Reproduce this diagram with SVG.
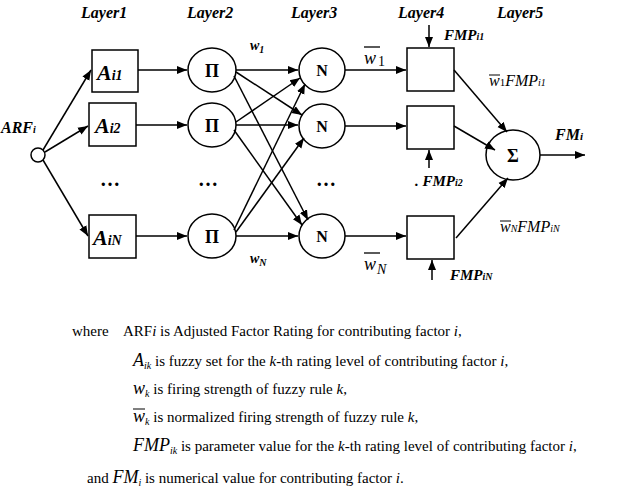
<svg xmlns="http://www.w3.org/2000/svg" width="640" height="495" viewBox="0 0 640 495" font-family="Liberation Serif, DejaVu Serif, Times New Roman, serif">
<defs>
<marker id="ar" viewBox="0 0 10 10" refX="10" refY="5" markerWidth="10" markerHeight="10" markerUnits="userSpaceOnUse" orient="auto"><path d="M0,1 L10,5 L0,9 z" fill="#000"/></marker>
<style>
text{font-family:"Liberation Serif","DejaVu Serif",serif}
.s{fill:#fff;stroke:#000;stroke-width:1.5}
.c{stroke:#000;stroke-width:1.5;fill:none;marker-end:url(#ar)}
.bi{font-weight:bold;font-style:italic}
</style>
</defs>
<g class="bi" font-size="16">
<text x="81" y="18">Layer1</text><text x="187" y="18">Layer2</text><text x="291" y="18">Layer3</text><text x="398" y="18">Layer4</text><text x="497" y="18">Layer5</text>
</g>
<g id="arf"><circle class="s" cx="38" cy="155" r="7"/><text class="bi" x="1" y="133" font-size="16">ARF<tspan font-size="10">i</tspan></text></g>
<g id="a1"><rect class="s" x="92" y="50" width="46" height="42"/><text class="bi" x="97" y="80" font-size="22">A<tspan font-size="14">i1</tspan></text></g>
<g id="a2"><rect class="s" x="89" y="103" width="47" height="43"/><text class="bi" x="95" y="133" font-size="22">A<tspan font-size="14">i2</tspan></text></g>
<g id="aN"><rect class="s" x="89" y="215" width="47" height="43"/><text class="bi" x="93" y="245" font-size="22">A<tspan font-size="14">iN</tspan></text></g>
<g id="p1"><ellipse class="s" cx="212" cy="70" rx="24" ry="22"/><text x="212" y="77" font-size="18" font-weight="bold" text-anchor="middle">Π</text></g>
<g id="p2"><ellipse class="s" cx="212" cy="125" rx="24" ry="22"/><text x="212" y="132" font-size="18" font-weight="bold" text-anchor="middle">Π</text></g>
<g id="pN"><ellipse class="s" cx="212" cy="236" rx="24" ry="22"/><text x="212" y="243" font-size="18" font-weight="bold" text-anchor="middle">Π</text></g>
<g id="n1"><ellipse class="s" cx="322" cy="70" rx="23" ry="22"/><text x="322" y="76" font-size="16" font-weight="bold" text-anchor="middle">N</text></g>
<g id="n2"><ellipse class="s" cx="322" cy="126" rx="23" ry="22"/><text x="322" y="132" font-size="16" font-weight="bold" text-anchor="middle">N</text></g>
<g id="nN"><ellipse class="s" cx="322" cy="236" rx="23" ry="22"/><text x="322" y="242" font-size="16" font-weight="bold" text-anchor="middle">N</text></g>
<g id="b1"><rect class="s" x="407" y="48" width="47" height="43"/></g>
<g id="b2"><rect class="s" x="407" y="106" width="47" height="43"/></g>
<g id="bN"><rect class="s" x="407" y="216" width="47" height="43"/></g>
<g id="sum"><ellipse class="s" cx="513" cy="155" rx="27" ry="25"/><text x="513" y="162" font-size="18" font-weight="bold" text-anchor="middle">Σ</text></g>
<g id="connectors">
<line class="c" x1="43" y1="150" x2="91" y2="70"/>
<line class="c" x1="45" y1="152" x2="88" y2="126"/>
<line class="c" x1="43" y1="160" x2="88" y2="236"/>
<line class="c" x1="138" y1="70" x2="187" y2="70"/>
<line class="c" x1="136" y1="125" x2="187" y2="125"/>
<line class="c" x1="136" y1="236" x2="187" y2="236"/>
<line class="c" x1="236" y1="70" x2="298" y2="70"/>
<line class="c" x1="236" y1="72" x2="302" y2="115"/>
<line class="c" x1="234" y1="76" x2="308" y2="220"/>
<line class="c" x1="236" y1="122" x2="300" y2="78"/>
<line class="c" x1="236" y1="125" x2="298" y2="125"/>
<line class="c" x1="234" y1="130" x2="302" y2="225"/>
<line class="c" x1="234" y1="230" x2="305" y2="84"/>
<line class="c" x1="236" y1="232" x2="304" y2="138"/>
<line class="c" x1="236" y1="236" x2="298" y2="236"/>
<line class="c" x1="345" y1="70" x2="406" y2="70"/>
<line class="c" x1="345" y1="126" x2="406" y2="126"/>
<line class="c" x1="345" y1="236" x2="406" y2="236"/>
<line class="c" x1="454" y1="70" x2="507" y2="132"/>
<line class="c" x1="454" y1="126" x2="495" y2="150"/>
<line class="c" x1="456" y1="238" x2="508" y2="178"/>
<line class="c" x1="540" y1="155" x2="585" y2="155"/>
<line class="c" x1="429" y1="25" x2="429" y2="47"/>
<line class="c" x1="429" y1="168" x2="429" y2="150"/>
<line class="c" x1="432" y1="280" x2="432" y2="260"/>
</g>
<g>
<text class="bi" x="250" y="50" font-size="14">w<tspan font-size="10" dy="3">1</tspan></text>
<text class="bi" x="250" y="263" font-size="14">w<tspan font-size="10" dy="3">N</tspan></text>
<text x="364" y="64" font-size="18" font-style="italic">w</text><text x="378" y="66" font-size="14">1</text><line x1="364" y1="47" x2="380" y2="47" stroke="#000" stroke-width="1.3"/>
<text x="364" y="270" font-size="18" font-style="italic">w</text><text x="377" y="274" font-size="14" font-style="italic">N</text><line x1="364" y1="253" x2="380" y2="253" stroke="#000" stroke-width="1.3"/>
<text class="bi" x="444" y="40" font-size="15">FMP<tspan font-size="10">i1</tspan></text>
<text class="bi" x="415" y="186" font-size="15">. FMP<tspan font-size="10">i2</tspan></text>
<text class="bi" x="450" y="280" font-size="15">FMP<tspan font-size="10">iN</tspan></text>
<text class="bi" x="555" y="140" font-size="16">FM<tspan font-size="11">i</tspan></text>
<text x="489" y="86" font-size="16" font-style="italic">w<tspan font-size="11" font-style="normal">1</tspan>FMP<tspan font-size="10">i1</tspan></text><line x1="489" y1="75" x2="500" y2="75" stroke="#000"/>
<text x="500" y="232" font-size="16" font-style="italic">w<tspan font-size="10">N</tspan>FMP<tspan font-size="10">iN</tspan></text><line x1="500" y1="221" x2="511" y2="221" stroke="#000"/>
<text font-size="20" font-weight="bold" x="100" y="186">…</text>
<text font-size="20" font-weight="bold" x="198" y="186">…</text>
<text font-size="20" font-weight="bold" x="316" y="186">…</text>
</g>
<g font-size="15">
<text x="72" y="336">where</text>
<text x="123" y="336">ARF<tspan font-style="italic">i</tspan> is Adjusted Factor Rating for contributing factor <tspan font-style="italic">i</tspan>,</text>
<text x="133" y="366"><tspan font-style="italic" font-size="18">A</tspan><tspan font-style="italic" font-size="10" dy="3">ik</tspan><tspan dy="-3"> is fuzzy set for the </tspan><tspan font-style="italic">k</tspan>-th rating level of contributing factor <tspan font-style="italic">i</tspan>,</text>
<text x="133" y="394"><tspan font-style="italic" font-size="18">w</tspan><tspan font-style="italic" font-size="10" dy="3">k</tspan><tspan dy="-3"> is firing strength of fuzzy rule </tspan><tspan font-style="italic">k</tspan>,</text>
<text x="133" y="422"><tspan font-style="italic" font-size="18">w</tspan><tspan font-style="italic" font-size="10" dy="3">k</tspan><tspan dy="-3"> is normalized firing strength of fuzzy rule </tspan><tspan font-style="italic">k</tspan>,</text>
<line x1="133" y1="409" x2="145" y2="409" stroke="#000"/>
<text x="133" y="451"><tspan font-style="italic" font-size="18">FMP</tspan><tspan font-style="italic" font-size="10" dy="3">ik</tspan><tspan dy="-3"> is parameter value for the </tspan><tspan font-style="italic">k</tspan>-th rating level of contributing factor <tspan font-style="italic">i</tspan>,</text>
<text x="87" y="483">and <tspan font-style="italic" font-size="18">FM</tspan><tspan font-style="italic" font-size="10" dy="3">i</tspan><tspan dy="-3"> is numerical value for contributing factor </tspan><tspan font-style="italic">i</tspan>.</text>
</g>
</svg>
